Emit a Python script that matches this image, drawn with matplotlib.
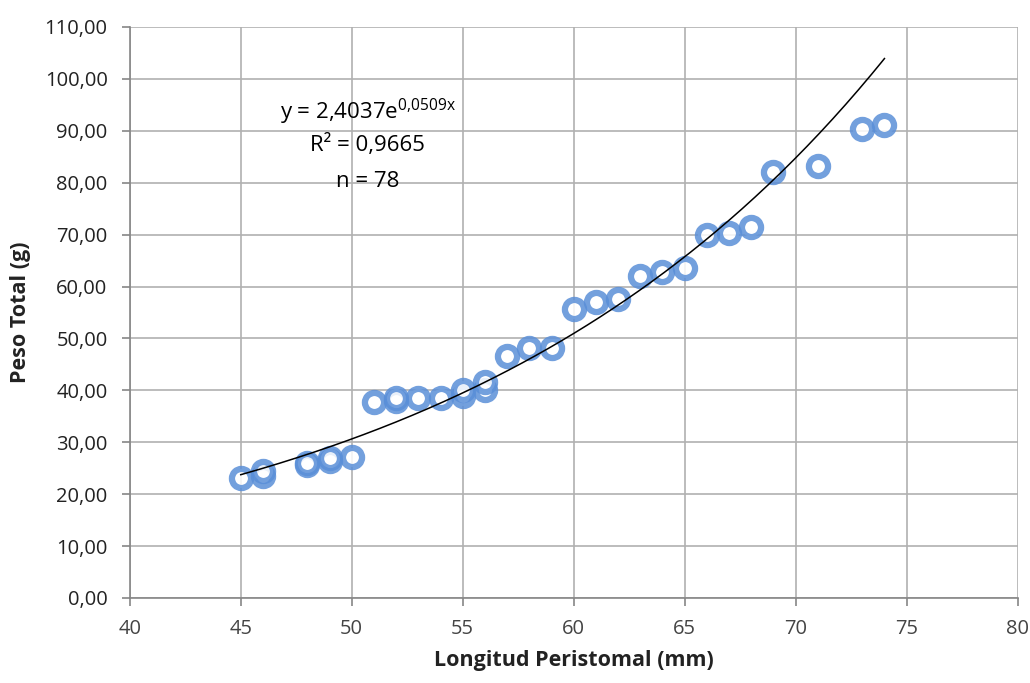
import numpy as np
import matplotlib
matplotlib.use("Agg")
import matplotlib.pyplot as plt
from matplotlib.ticker import FuncFormatter

# longitud peristomal (mm) vs peso total (g)
longitud = [45, 46, 46, 48, 48, 49, 49, 50, 51, 52, 52, 53, 54, 55, 55, 56, 56,
            57, 58, 59, 60, 61, 62, 63, 64, 65, 66, 67, 68, 69, 71, 73, 74]
peso = [23.1, 23.5, 24.4, 25.7, 26.0, 26.3, 26.9, 27.2, 37.8, 38.0, 38.5, 38.6, 38.6,
        39.0, 40.0, 40.1, 41.6, 46.6, 48.2, 48.2, 55.7, 57.0, 57.6, 62.0, 62.8, 63.6,
        70.0, 70.3, 71.5, 82.0, 83.2, 90.4, 91.1]

coef_a = 2.4037
coef_b = 0.0509
x_ticks = [40, 45, 50, 55, 60, 65, 70, 75, 80]
y_ticks = [0, 10, 20, 30, 40, 50, 60, 70, 80, 90, 100, 110]

plt.rcParams['font.family'] = ['Open Sans', 'DejaVu Sans']

fig = plt.figure(figsize=(10.3, 6.83), dpi=100)
ax = fig.add_axes([0.126, 0.1245, 0.862, 0.836])

ax.scatter(longitud, peso, s=190, facecolors='white', edgecolors='#5a8fd8',
           linewidths=4.5, alpha=0.85, zorder=3)

xs = np.linspace(min(longitud), max(longitud), 200)
ax.plot(xs, coef_a * np.exp(coef_b * xs), color='black', lw=1.1, zorder=4)

ax.set_xlim(40, 80)
ax.set_ylim(0, 110)
ax.set_xticks(x_ticks)
ax.set_yticks(y_ticks)
ax.yaxis.set_major_formatter(FuncFormatter(lambda v, p: f"{v:.2f}".replace('.', ',')))
ax.grid(True, color='#b0b0b0', lw=1.2)
ax.set_axisbelow(True)
for s in ['top', 'right']:
    ax.spines[s].set_visible(False)
for s in ['left', 'bottom']:
    ax.spines[s].set_color('#868686')
    ax.spines[s].set_linewidth(1.2)
ax.tick_params(axis='both', colors='#868686', length=6, width=1.2, labelsize=14.5)
ax.tick_params(axis='y', pad=10, labelcolor='#222222')
ax.tick_params(axis='x', pad=9, labelcolor='#444444')

ax.set_xlabel('Longitud Peristomal (mm)', fontsize=15.5, fontweight='bold',
              color='#222222', labelpad=8)
ax.set_ylabel('Peso Total (g)', fontsize=15.5, fontweight='bold',
              color='#222222', labelpad=10)

ax.text(0.268, 0.851, r'y = 2,4037e$^{\mathregular{0{,}0509x}}$', transform=ax.transAxes,
        ha='center', va='center', fontsize=16)
ax.text(0.268, 0.793, 'R² = 0,9665', transform=ax.transAxes,
        ha='center', va='center', fontsize=16)
ax.text(0.268, 0.729, 'n = 78', transform=ax.transAxes,
        ha='center', va='center', fontsize=16)

fig.savefig('out.png', dpi=100)
